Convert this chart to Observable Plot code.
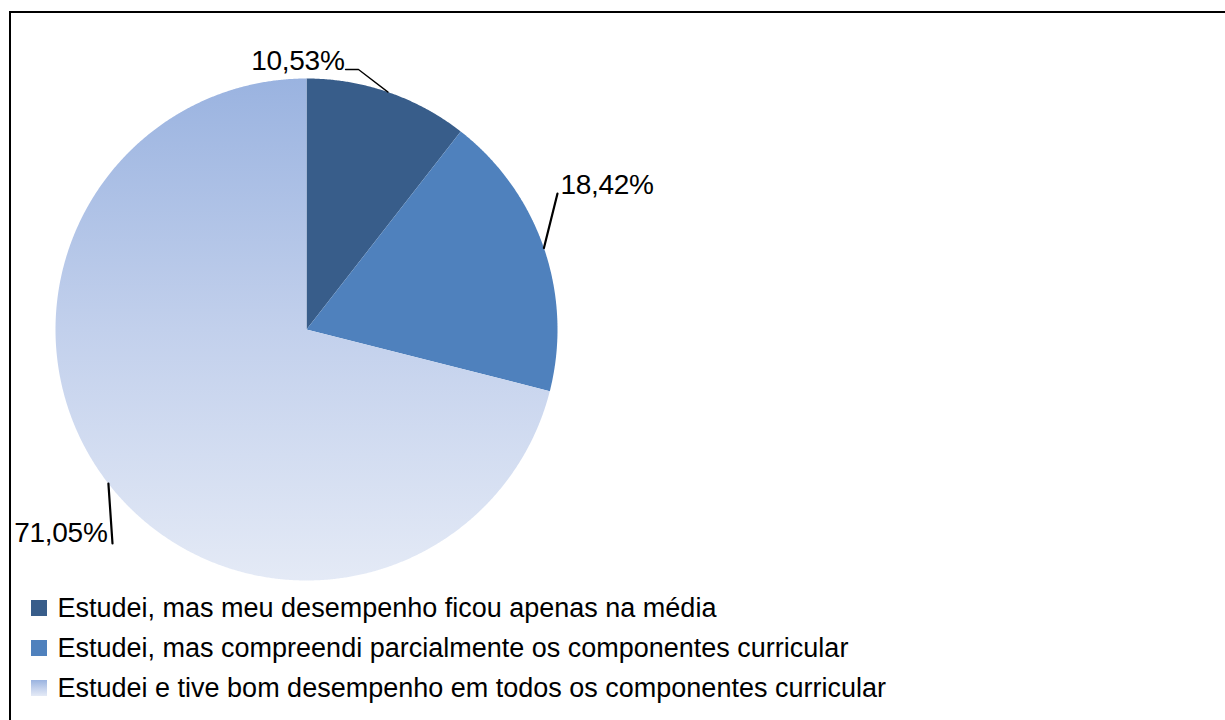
<!DOCTYPE html>
<html>
<head>
<meta charset="utf-8">
<script src="https://cdn.jsdelivr.net/npm/d3@7"></script>
<script src="https://cdn.jsdelivr.net/npm/@observablehq/plot@0.6"></script>
<style>
  html, body { margin: 0; padding: 0; background: #fff; overflow: hidden; }
  #wrap { position: relative; width: 1225px; height: 720px; }
  #box { position: absolute; left: 9px; top: 11px; width: 1300px; height: 800px;
         border-left: 2px solid #000; border-top: 2px solid #000; pointer-events: none; }
  #chart { position: absolute; left: 0; top: 0; }
  svg text.lbl { letter-spacing: -0.3px; }
  svg text.leg { letter-spacing: 0px; }
</style>
</head>
<body>
<div id="wrap"><div id="chart"></div><div id="box"></div></div>
<script>
// ---- data ----
const categories = [
  "Estudei, mas meu desempenho ficou apenas na média",
  "Estudei, mas compreendi parcialmente os componentes curricular",
  "Estudei e tive bom desempenho em todos os componentes curricular"
];
const values = [10.53, 18.42, 71.05];
const labels = ["10,53%", "18,42%", "71,05%"];

// ---- layout / style ----
const W = 1225, H = 720;
const cx = 306, cy = 329, R = 251;
const fills = ["#385D8A", "#4F81BD", "url(#lightGrad)"];
// label anchor positions (px) as placed in the reference (Excel "best fit")
const labelPos = [
  {x: 344, y: 69, anchor: "end", elbow: [[358, 69], [345, 69]]},
  {x: 560, y: 193, anchor: "start", elbow: [[557, 193]]},
  {x: 107, y: 541, anchor: "end", elbow: [[112, 543]]}
];
const legendTop = 608, legendStep = 40, swX = 31, sw = 16, textX = 57;

const pie = d3.pie().sort(null).value(d => d)(values);

// slice polygons
const slicePts = pie.map((p) => {
  const pts = [{x: cx, y: cy}];
  const n = Math.max(8, Math.ceil((p.endAngle - p.startAngle) / 0.005));
  for (let k = 0; k <= n; k++) {
    const a = p.startAngle + (p.endAngle - p.startAngle) * k / n;
    pts.push({x: cx + R * Math.sin(a), y: cy - R * Math.cos(a)});
  }
  pts.push({x: cx, y: cy});
  return pts;
});

// leader lines: from arc midpoint to label anchor
const leaders = pie.map((p, i) => {
  const a = (p.startAngle + p.endAngle) / 2;
  const start = {x: cx + R * Math.sin(a), y: cy - R * Math.cos(a)};
  return [start, ...labelPos[i].elbow.map(([x, y]) => ({x, y}))];
});

const legendData = categories.map((c, i) => ({c, i, y: legendTop + i * legendStep}));

const marks = [];
slicePts.forEach((pts, i) => {
  marks.push(Plot.line(pts, {x: "x", y: "y", fill: fills[i], stroke: "none", curve: "linear"}));
});
leaders.forEach((pts, i) => {
  marks.push(Plot.line(pts, {x: "x", y: "y", stroke: "#000", strokeWidth: i === 0 ? 1.3 : 2.2, curve: "linear"}));
});
labels.forEach((t, i) => {
  const p = labelPos[i];
  marks.push(Plot.text([{t, x: p.x, y: p.y}], {
    x: "x", y: "y", text: "t", textAnchor: p.anchor, lineAnchor: "bottom",
    fontSize: 28, fill: "#000", className: "lbl"
  }));
});
// legend
marks.push(Plot.rect(legendData, {
  x1: () => swX, x2: () => swX + sw,
  y1: d => d.y - sw / 2, y2: d => d.y + sw / 2,
  fill: d => fills[d.i]
}));
marks.push(Plot.text(legendData, {
  x: () => textX, y: "y", text: "c", textAnchor: "start",
  fontSize: 27, fill: "#000", className: "leg"
}));

const chart = Plot.plot({
  width: W, height: H,
  margin: 0,
  x: {domain: [0, W], range: [0, W], axis: null},
  y: {domain: [0, H], range: [0, H], axis: null},
  style: {fontFamily: "'Liberation Sans', Arial, sans-serif", background: "transparent", overflow: "visible"},
  marks
});

// gradient for the light slice
const defs = d3.select(chart).insert("defs", ":first-child");
const g = defs.append("linearGradient").attr("id", "lightGrad")
  .attr("x1", 0).attr("y1", 0).attr("x2", 0).attr("y2", 1);
g.append("stop").attr("offset", "0%").attr("stop-color", "#9AB3E0");
g.append("stop").attr("offset", "50%").attr("stop-color", "#C2D0EC");
g.append("stop").attr("offset", "100%").attr("stop-color", "#E4EAF6");
d3.select(chart).selectAll("g.lbl text").classed("lbl", true);
d3.select(chart).selectAll("g.leg text").classed("leg", true);

document.getElementById("chart").append(chart);
</script>
</body>
</html>
